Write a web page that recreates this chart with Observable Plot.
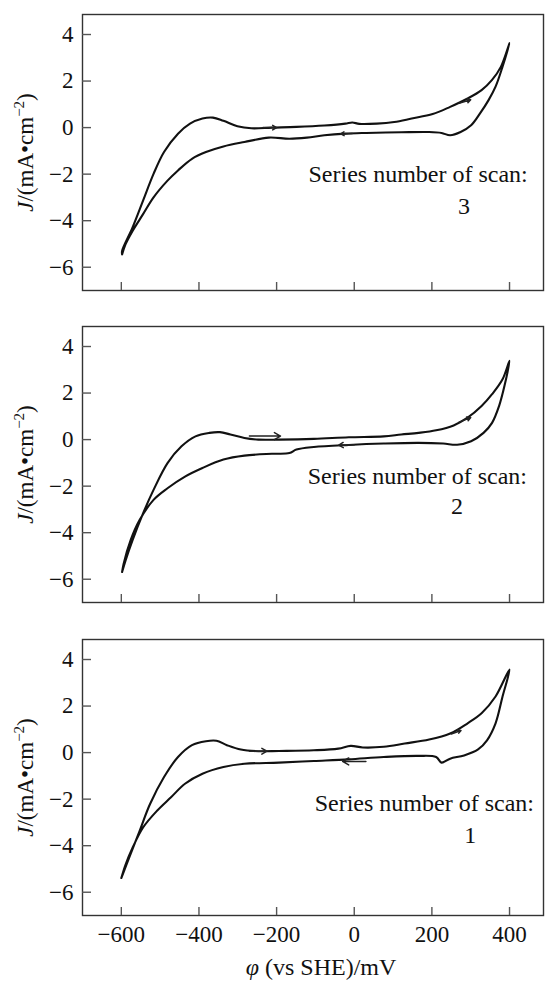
<!DOCTYPE html>
<html>
<head>
<meta charset="utf-8">
<script src="https://cdn.jsdelivr.net/npm/d3@7"></script>
<script src="https://cdn.jsdelivr.net/npm/@observablehq/plot@0.6"></script>
<style>
  body { margin: 0; background: #fff; }
  #chart svg { display: block; }
  #chart svg text { font-family: 'Liberation Serif', 'Times New Roman', serif !important; }
</style>
</head>
<body>
<div id="chart"></div>
<script>
// ---- Data ----
const xTicks = [-600, -400, -200, 0, 200, 400];
const yTicks = [-6, -4, -2, 0, 2, 4];
const scanLabel = "Series number of scan:";
const scanNumbers = ["3", "2", "1"];
const yLabel = "J/(mA•cm−2)";
const xLabel = "φ (vs SHE)/mV";

// [potential mV, current density mA/cm2] — forward (anodic) branch then reverse branch
const scan3Forward = [[-598,-5.45],[-598,-5.3],[-571,-4.29],[-544,-3.14],[-517,-1.99],[-490,-1.05],[-454,-0.26],[-423,0.17],[-391,0.39],[-364,0.43],[-337,0.29],[-301,0.06],[-265,-0.03],[-212,0.0],[-149,0.03],[-77,0.09],[-23,0.17],[-5,0.22],[13,0.16],[58,0.17],[103,0.24],[148,0.39],[202,0.58],[247,0.89],[292,1.25],[328,1.61],[355,2.05],[378,2.62],[400,3.63]];
const scan3Reverse = [[400,3.63],[382,2.62],[364,1.76],[346,1.18],[324,0.61],[301,0.10],[274,-0.19],[247,-0.33],[225,-0.23],[193,-0.19],[121,-0.20],[31,-0.23],[-23,-0.26],[-77,-0.33],[-122,-0.43],[-167,-0.48],[-220,-0.43],[-283,-0.62],[-337,-0.81],[-382,-1.05],[-418,-1.34],[-454,-1.84],[-481,-2.28],[-517,-3.0],[-544,-3.72],[-571,-4.44],[-589,-5.01],[-598,-5.45]];

const scan2Forward = [[-598,-5.69],[-589,-5.19],[-571,-4.32],[-544,-3.17],[-517,-2.16],[-481,-1.01],[-445,-0.29],[-409,0.14],[-373,0.29],[-346,0.32],[-319,0.22],[-283,0.07],[-247,0.0],[-194,0.0],[-104,0.03],[-14,0.10],[76,0.14],[121,0.22],[166,0.29],[211,0.40],[256,0.61],[292,0.94],[328,1.44],[355,1.95],[382,2.59],[400,3.39]];
const scan2Reverse = [[400,3.39],[387,2.31],[373,1.44],[355,0.72],[333,0.29],[301,-0.07],[265,-0.22],[229,-0.17],[166,-0.14],[76,-0.17],[-14,-0.23],[-104,-0.32],[-149,-0.43],[-167,-0.58],[-212,-0.61],[-283,-0.69],[-337,-0.86],[-391,-1.22],[-436,-1.59],[-481,-2.09],[-517,-2.59],[-553,-3.46],[-576,-4.32],[-594,-5.33],[-598,-5.69]];

const scan1Forward = [[-600,-5.39],[-580,-4.52],[-553,-3.37],[-526,-2.21],[-490,-1.05],[-454,-0.19],[-418,0.32],[-382,0.49],[-355,0.51],[-328,0.32],[-292,0.13],[-247,0.06],[-194,0.07],[-104,0.10],[-41,0.17],[-9,0.29],[22,0.22],[76,0.25],[130,0.39],[193,0.56],[247,0.82],[292,1.26],[328,1.69],[364,2.41],[400,3.57]];
const scan1Reverse = [[400,3.57],[382,2.41],[364,1.26],[342,0.53],[319,0.14],[283,-0.12],[247,-0.26],[225,-0.43],[211,-0.19],[166,-0.14],[76,-0.19],[-14,-0.29],[-104,-0.36],[-194,-0.43],[-283,-0.48],[-337,-0.62],[-391,-0.91],[-436,-1.34],[-472,-1.92],[-508,-2.5],[-544,-3.22],[-571,-4.09],[-589,-4.81],[-600,-5.39]];

// scan-direction arrows [x1, y1, x2, y2]
const scan3Arrows = [[-235,0.0,-200,0.0],[-5,-0.25,-35,-0.27],[270,1.05,300,1.2]];
const scan2Arrows = [[-270,0.15,-190,0.15],[0,-0.22,-40,-0.24],[270,0.75,300,0.95]];
const scan1Arrows = [[-270,0.06,-225,0.06],[30,-0.38,-30,-0.38],[250,0.8,275,0.95]];

// ---- Layout (not data) ----
const panels = [
  {fwd: scan3Forward, rev: scan3Reverse, arrows: scan3Arrows, num: scanNumbers[0], labelPos: [447, -2.35], numPos: [283, -3.71], height: 312, mb: 22, bottom: false},
  {fwd: scan2Forward, rev: scan2Reverse, arrows: scan2Arrows, num: scanNumbers[1], labelPos: [445, -1.91], numPos: [265, -3.19], height: 313, mb: 23, bottom: false},
  {fwd: scan1Forward, rev: scan1Reverse, arrows: scan1Arrows, num: scanNumbers[2], labelPos: [463, -2.53], numPos: [299, -3.87], height: 356, mb: 66, bottom: true}
];

const FONT = "'Liberation Serif', 'Times New Roman', serif";
const chart = document.getElementById("chart");
const fmt = d => d < 0 ? "−" + Math.abs(d) : String(d);

for (const p of panels) {
  const loop = p.fwd.concat(p.rev.slice(1));
  const marks = [
    Plot.frame({stroke: "#333", strokeWidth: 1.4}),
    Plot.axisX(xTicks, {anchor: "bottom", tickSize: -8, tickPadding: 18.4, stroke: "#555", strokeWidth: 1.4,
      tickFormat: p.bottom ? fmt : () => "", label: null, fontSize: 23}),
    Plot.axisY(yTicks, {anchor: "left", tickSize: -9, tickPadding: 18, stroke: "#555", strokeWidth: 1.4,
      tickFormat: fmt, label: null, fontSize: 23}),
    Plot.line(loop, {x: d => d[0], y: d => d[1], stroke: "#111", strokeWidth: 2.1, curve: "catmull-rom"}),
    Plot.arrow(p.arrows, {x1: d => d[0], y1: d => d[1], x2: d => d[2], y2: d => d[3], stroke: "#222", strokeWidth: 1.5, headLength: 7}),
    Plot.text([scanLabel], {x: p.labelPos[0], y: p.labelPos[1], text: d => d, textAnchor: "end", lineAnchor: "bottom", fontSize: 24, fill: "#111"}),
    Plot.text([p.num], {x: p.numPos[0], y: p.numPos[1], text: d => d, textAnchor: "middle", lineAnchor: "bottom", fontSize: 24, fill: "#111"}),
    Plot.text([yLabel], {frameAnchor: "left", dx: -57, rotate: -90, textAnchor: "middle", text: d => d, fontSize: 23, fill: "#111"})
  ];
  if (p.bottom) {
    marks.push(Plot.text([xLabel], {frameAnchor: "bottom", dy: 59, textAnchor: "middle", text: d => d, fontSize: 24, fill: "#111", dx: 8}));
  }
  const svg = Plot.plot({
    width: 547,
    height: p.height,
    marginLeft: 82,
    marginRight: 4,
    marginTop: 14,
    marginBottom: p.mb,
    style: {fontFamily: FONT, fontSize: "23px", background: "#fff", color: "#111"},
    x: {domain: [-700, 487.5]},
    y: {domain: [-7, 4.86]},
    marks
  });
  // tick labels: enforce size on every axis text group
  d3.select(svg).selectAll("g").filter(function() {
    const a = this.getAttribute("aria-label") || "";
    return a.includes("axis");
  }).attr("font-size", 23).style("font-size", "23px")
    .selectAll("text").style("font-size", "23px");
  // rich text for axis labels (italic symbols, superscript)
  d3.select(svg).selectAll("text").each(function() {
    const t = this.textContent;
    const sel = d3.select(this);
    if (t === yLabel) {
      sel.text(null);
      sel.append("tspan").attr("font-style", "italic").text("J");
      sel.append("tspan").text("/(mA•cm");
      sel.append("tspan").attr("font-size", 15).attr("dy", -9).text("−2");
      sel.append("tspan").attr("dy", 9).text(")");
    } else if (t === xLabel) {
      sel.text(null);
      sel.append("tspan").attr("font-style", "italic").text("φ");
      sel.append("tspan").text(" (vs SHE)/mV");
    }
  });
  chart.appendChild(svg);
}
</script>
</body>
</html>
